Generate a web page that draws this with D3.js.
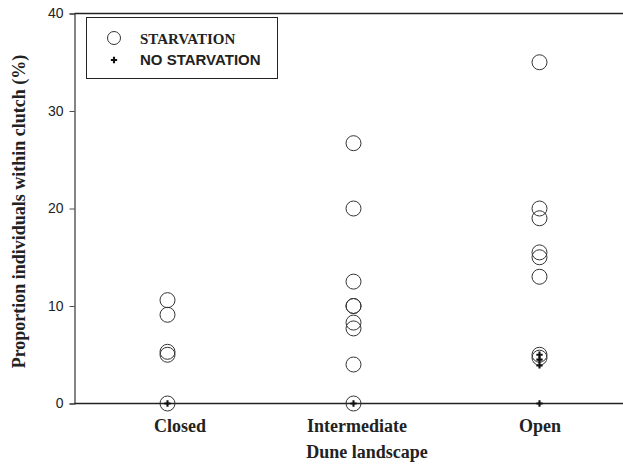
<!DOCTYPE html>
<html>
<head>
<meta charset="utf-8">
<script src="https://cdn.jsdelivr.net/npm/d3@7"></script>
<style>
  html, body { margin: 0; padding: 0; background: #fff; }
  svg { display: block; }
</style>
</head>
<body>
<svg id="chart" width="623" height="470"></svg>
<script>
// ---- data ----
const categories = ["Closed", "Intermediate", "Open"];
const starvationClosed = [10.6, 9.1, 5.3, 5.0, 0];
const starvationIntermediate = [26.7, 20.0, 12.5, 10.0, 10.0, 8.3, 7.7, 4.0, 0];
const starvationOpen = [35.0, 20.0, 19.0, 15.5, 15.0, 13.0, 5.0, 4.7];
const noStarvationClosed = [0];
const noStarvationIntermediate = [0];
const noStarvationOpen = [5.0, 4.5, 3.9, 0];
const yTicks = [0, 10, 20, 30, 40];
const legendLabels = ["STARVATION", "NO STARVATION"];
const xTitle = "Dune landscape";
const yTitle = "Proportion individuals within clutch (%)";

const starvation = [
  ...starvationClosed.map(v => ({cat: "Closed", v})),
  ...starvationIntermediate.map(v => ({cat: "Intermediate", v})),
  ...starvationOpen.map(v => ({cat: "Open", v}))
];
const noStarvation = [
  ...noStarvationClosed.map(v => ({cat: "Closed", v})),
  ...noStarvationIntermediate.map(v => ({cat: "Intermediate", v})),
  ...noStarvationOpen.map(v => ({cat: "Open", v}))
];

// ---- layout ----
const svg = d3.select("#chart");
const mLeft = 74.5, mTop = 13.5, mBottom = 403.5;
const step = 186;
const x = d3.scalePoint().domain(categories).range([mLeft, mLeft + step * categories.length]).padding(0.5);
const y = d3.scaleLinear().domain([0, 40]).range([mBottom, mTop]);

const ink = "#222";
const serif = "'Liberation Serif', 'Times New Roman', serif";
const sans = "'Liberation Sans', Arial, sans-serif";

// frame (right side cropped beyond view)
svg.append("line").attr("x1", mLeft).attr("x2", 623).attr("y1", mTop).attr("y2", mTop)
  .attr("stroke", ink).attr("stroke-width", 1.3);
svg.append("line").attr("x1", mLeft).attr("x2", 623).attr("y1", mBottom).attr("y2", mBottom)
  .attr("stroke", ink).attr("stroke-width", 1.3);

// y axis
const yAxis = svg.append("g").attr("transform", `translate(${mLeft},0)`)
  .call(d3.axisLeft(y).tickValues(yTicks).tickSize(5).tickPadding(6).tickFormat(d3.format("d")));
yAxis.select(".domain").attr("stroke", ink).attr("stroke-width", 1.1);
yAxis.selectAll(".tick line").attr("stroke", ink).attr("stroke-width", 0.8);
yAxis.selectAll(".tick text").attr("font-family", sans).attr("font-size", 14).attr("fill", ink);

// x tick labels
const labelShift = {"Closed": 12, "Intermediate": 3, "Open": 0};
const xAxis = svg.append("g").attr("transform", `translate(0,${mBottom})`)
  .call(d3.axisBottom(x).tickSize(0).tickPadding(16));
xAxis.select(".domain").remove();
xAxis.selectAll(".tick text")
  .attr("font-family", serif).attr("font-size", 18).attr("font-weight", "bold").attr("fill", ink)
  .attr("dx", d => labelShift[d]);

// titles
svg.append("text").attr("x", 367).attr("y", 458).attr("text-anchor", "middle")
  .attr("font-family", serif).attr("font-size", 18).attr("font-weight", "bold").attr("fill", ink)
  .text(xTitle);
svg.append("text").attr("transform", `translate(25,${(mTop + mBottom) / 2 + 3}) rotate(-90)`)
  .attr("text-anchor", "middle")
  .attr("font-family", serif).attr("font-size", 18).attr("font-weight", "bold").attr("fill", ink)
  .text(yTitle);

// points
svg.append("g").selectAll("circle").data(starvation).join("circle")
  .attr("cx", d => x(d.cat)).attr("cy", d => y(d.v)).attr("r", 7.5)
  .attr("fill", "none").attr("stroke", "#333").attr("stroke-width", 1);

const cross = d3.symbol().type(d3.symbolCross).size(22);
svg.append("g").selectAll("path").data(noStarvation).join("path")
  .attr("transform", d => `translate(${x(d.cat)},${y(d.v)})`)
  .attr("d", cross).attr("fill", "#111");

// legend
const lg = svg.append("g");
lg.append("rect").attr("x", 86.5).attr("y", 17.5).attr("width", 191).attr("height", 61)
  .attr("fill", "#fff").attr("stroke", ink).attr("stroke-width", 1);
lg.append("circle").attr("cx", 114).attr("cy", 38).attr("r", 6.5)
  .attr("fill", "none").attr("stroke", "#333").attr("stroke-width", 1);
lg.append("text").attr("x", 140).attr("y", 44)
  .attr("font-family", serif).attr("font-size", 15).attr("font-weight", "bold").attr("fill", ink)
  .text(legendLabels[0]);
lg.append("path").attr("transform", "translate(114,60)").attr("d", cross).attr("fill", "#111");
lg.append("text").attr("x", 140).attr("y", 65)
  .attr("font-family", sans).attr("font-size", 15).attr("font-weight", "bold").attr("fill", ink)
  .text(legendLabels[1]);
</script>
</body>
</html>
